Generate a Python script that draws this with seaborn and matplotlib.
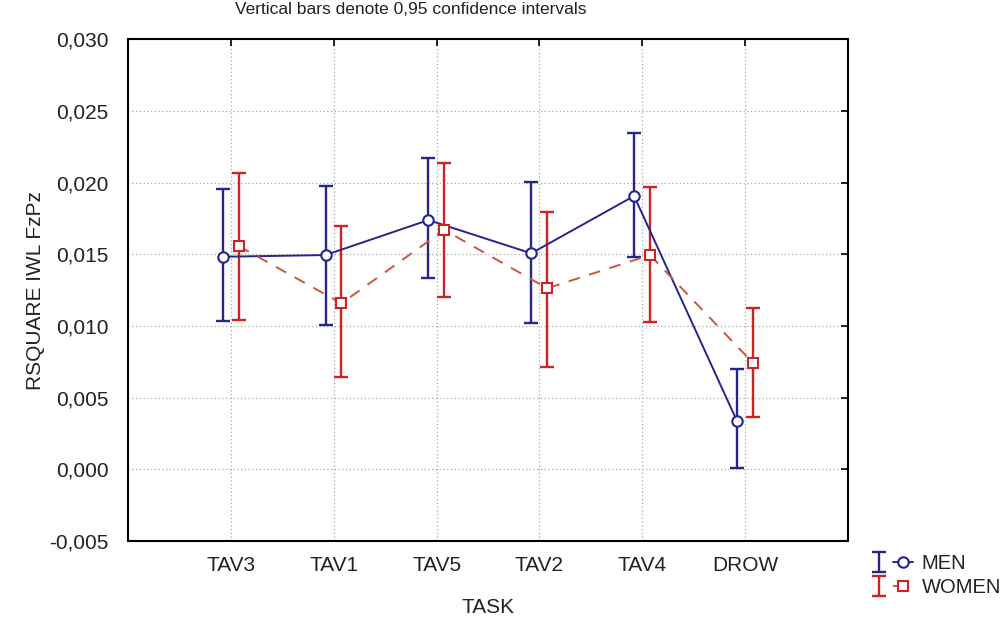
import numpy as np
import pandas as pd
import matplotlib
matplotlib.use("Agg")
import matplotlib.pyplot as plt
from matplotlib.ticker import FuncFormatter, MultipleLocator
from matplotlib.legend_handler import HandlerTuple
import seaborn as sns

# ---- data ----
tasks = ["TAV3", "TAV1", "TAV5", "TAV2", "TAV4", "DROW"]
groups = ["MEN", "WOMEN"]
men_mean = [0.01483, 0.01495, 0.01739, 0.01507, 0.01907, 0.00338]
men_low = [0.01034, 0.01006, 0.01332, 0.01018, 0.01483, 0.00006]
men_high = [0.01954, 0.01977, 0.02170, 0.02007, 0.02345, 0.00697]
women_mean = [0.01558, 0.01158, 0.01670, 0.01263, 0.01495, 0.00743]
women_low = [0.01041, 0.00641, 0.01204, 0.00715, 0.01029, 0.00366]
women_high = [0.02070, 0.01698, 0.02140, 0.01797, 0.01972, 0.01123]
title_text = "Vertical bars denote 0,95 confidence intervals"
x_label = "TASK"
y_label = "RSQUARE IWL FzPz"

df = pd.DataFrame({
    "TASK": tasks * 2,
    "SEX": ["MEN"] * len(tasks) + ["WOMEN"] * len(tasks),
    "value": men_mean + women_mean,
    "low": men_low + women_low,
    "high": men_high + women_high,
})
df["pos"] = df["TASK"].map({t: i for i, t in enumerate(tasks)}).astype(float)

sns.set_style("white")
plt.rcParams["font.family"] = ["Liberation Sans", "DejaVu Sans"]

fig = plt.figure(figsize=(10.08, 6.21), dpi=100)
ax = fig.add_axes([0.127, 0.1288, 0.7143, 0.8079])

styles = {
    "MEN": dict(color="#25258C", line="#25258C", marker="o", ls="-", off=-0.08, ms=7.5),
    "WOMEN": dict(color="#CC2424", line="#C8583E", marker="s", ls=(0, (6, 5)), off=0.075, ms=7),
}

handles = []
for g in groups:
    s = styles[g]
    sub = df[df["SEX"] == g]
    x = sub["pos"].to_numpy() + s["off"]
    y = sub["value"].to_numpy()
    eb = ax.errorbar(x, y, yerr=[y - sub["low"].to_numpy(), sub["high"].to_numpy() - y],
                     fmt="none", ecolor=s["color"], elinewidth=1.7, capsize=5,
                     capthick=1.7, zorder=3)
    sns.lineplot(x=x, y=y, ax=ax, color=s["line"], linestyle=s["ls"], linewidth=1.4,
                 marker=s["marker"], markersize=s["ms"], markerfacecolor="white",
                 markeredgecolor=s["color"], markeredgewidth=1.5, zorder=4,
                 legend=False)
    line = ax.lines[-1]
    handles.append((eb, line))

ax.set_xlim(-1, 6)
ax.set_ylim(-0.005, 0.030)
ax.set_xticks(range(len(tasks)))
ax.set_xticklabels(tasks)
ax.yaxis.set_major_locator(MultipleLocator(0.005))
ax.yaxis.set_major_formatter(FuncFormatter(lambda v, p: f"{v:.3f}".replace(".", ",")))

ax.grid(True, color="#A8A8A8", linestyle=(0, (1, 2)), linewidth=0.9)
ax.set_axisbelow(True)
for sp in ax.spines.values():
    sp.set_visible(True)
    sp.set_color("black")
    sp.set_linewidth(1.5)

ax.tick_params(axis="both", direction="in", length=5, width=1.2, color="black",
               top=True, right=True, labelsize=15, labelcolor="#222222")
ax.tick_params(axis="y", pad=14)
ax.tick_params(axis="x", pad=11)

ax.set_xlabel(x_label, fontsize=15, color="#222222", labelpad=16)
ax.set_ylabel(y_label, fontsize=15, color="#222222", labelpad=3)

fig.text(411 / 1008, 1 - 14 / 621, title_text, ha="center", va="baseline",
         fontsize=12.5, color="#222222")

fig.legend(handles, groups, handler_map={tuple: HandlerTuple(ndivide=None)},
           loc="upper left", bbox_to_anchor=(855 / 1008, 1 - 540 / 621),
           frameon=False, fontsize=14.5, handlelength=2.2, handletextpad=0.4,
           labelspacing=0.25, borderpad=0.2, labelcolor="#222222")

fig.savefig("out.png", dpi=100)
